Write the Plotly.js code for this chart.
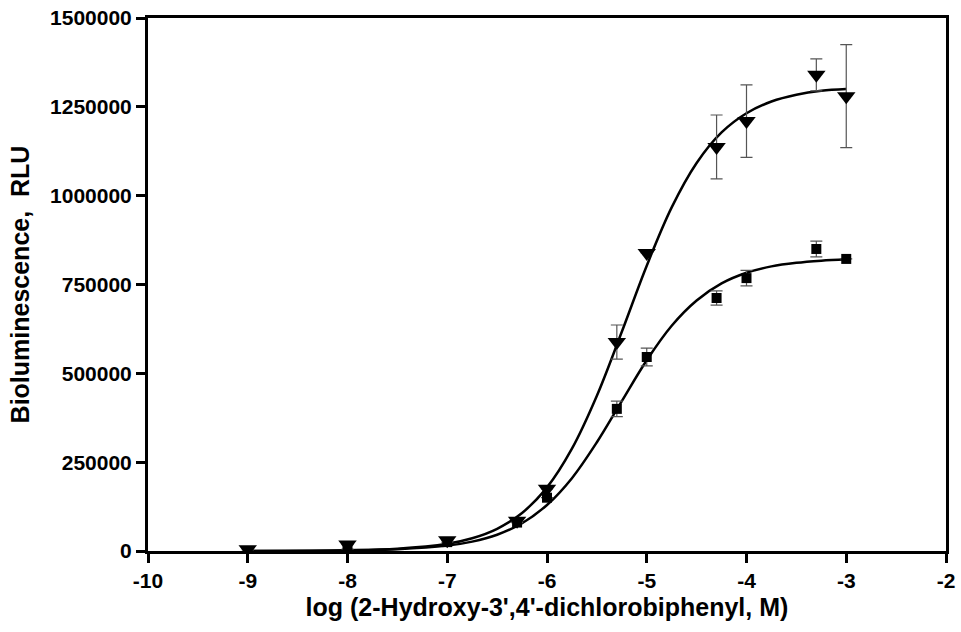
<!DOCTYPE html>
<html>
<head>
<meta charset="utf-8">
<script src="https://cdn.plot.ly/plotly-3.0.1.min.js"></script>
<style>html,body{margin:0;padding:0;background:#fff;}#chart{width:961px;height:632px;}</style>
</head>
<body>
<div id="chart"></div>
<script>
// Measured points (log M)
const triX = [-9, -8, -7, -6.3, -6, -5.3, -5, -4.3, -4, -3.3, -3];
const triY = [5000, 18000, 30000, 85000, 175000, 588000, 839000, 1137000, 1210000, 1340000, 1280000];
const triErr = [0, 0, 0, 0, 0, 48000, 0, 90000, 102000, 45000, 145000];

const sqX = [-9, -8, -7, -6.3, -6, -5.3, -5, -4.3, -4, -3.3, -3];
const sqY = [0, 5000, 25000, 80000, 150000, 400000, 546000, 712000, 768000, 850000, 822000];
const sqErr = [0, 0, 0, 0, 0, 22000, 25000, 20000, 22000, 22000, 0];

// Fitted curves
const curveX = [-9, -8, -7.5, -7, -6.75, -6.5, -6.25, -6, -5.75, -5.5, -5.25, -5, -4.75, -4.5, -4.25, -4, -3.75, -3.5, -3.25, -3];
const triCurve = [200, 2100, 6500, 20400, 35900, 62500, 107000, 179000, 288000, 437000, 617000, 803000, 967000, 1092000, 1178000, 1232000, 1265000, 1284000, 1295000, 1300000];
const sqCurve = [150, 1500, 4800, 15100, 26400, 45800, 78200, 129500, 205000, 306000, 422000, 537000, 634000, 705000, 753000, 783000, 801000, 811000, 817000, 821000];

const xTicks = [-10, -9, -8, -7, -6, -5, -4, -3, -2];
const yTicks = [0, 250000, 500000, 750000, 1000000, 1250000, 1500000];

const font = {family: 'Liberation Sans, Arial, sans-serif', color: '#000'};
const errStyle = {type: 'data', visible: true, color: '#555', thickness: 1.2, width: 6};

const traces = [
  {x: curveX, y: triCurve, mode: 'lines', line: {color: '#000', width: 2.5, shape: 'spline'}, hoverinfo: 'skip'},
  {x: curveX, y: sqCurve, mode: 'lines', line: {color: '#000', width: 2.5, shape: 'spline'}, hoverinfo: 'skip'},
  {x: triX, y: triY, mode: 'markers', marker: {symbol: 'triangle-down', size: 16, color: '#000'},
   error_y: Object.assign({array: triErr}, errStyle)},
  {x: sqX, y: sqY, mode: 'markers', marker: {symbol: 'square', size: 10, color: '#000'},
   error_y: Object.assign({array: sqErr}, errStyle)}
];

const layout = {
  width: 961, height: 632,
  margin: {l: 148, r: 15, t: 18, b: 81},
  showlegend: false,
  paper_bgcolor: '#fff', plot_bgcolor: '#fff',
  xaxis: {
    range: [-10, -2], tickvals: xTicks, ticktext: xTicks.map(String),
    showgrid: false, zeroline: false, showline: true, linewidth: 3, linecolor: '#000',
    mirror: true, ticks: 'outside', ticklen: 9, tickwidth: 3, tickcolor: '#000',
    tickfont: Object.assign({size: 21, weight: 'bold'}, font),
    title: {text: "log (2-Hydroxy-3',4'-dichlorobiphenyl, M)", font: Object.assign({size: 25, weight: 'bold'}, font), standoff: 8}
  },
  yaxis: {
    range: [0, 1500000], tickvals: yTicks, ticktext: yTicks.map(String),
    showgrid: false, zeroline: false, showline: true, linewidth: 3, linecolor: '#000',
    mirror: true, ticks: 'outside', ticklen: 9, tickwidth: 3, tickcolor: '#000',
    tickfont: Object.assign({size: 21, weight: 'bold'}, font),
    title: {text: 'Bioluminescence,  RLU', font: Object.assign({size: 25, weight: 'bold'}, font), standoff: 14}
  }
};

Plotly.newPlot('chart', traces, layout, {displayModeBar: false, staticPlot: true});
</script>
</body>
</html>
